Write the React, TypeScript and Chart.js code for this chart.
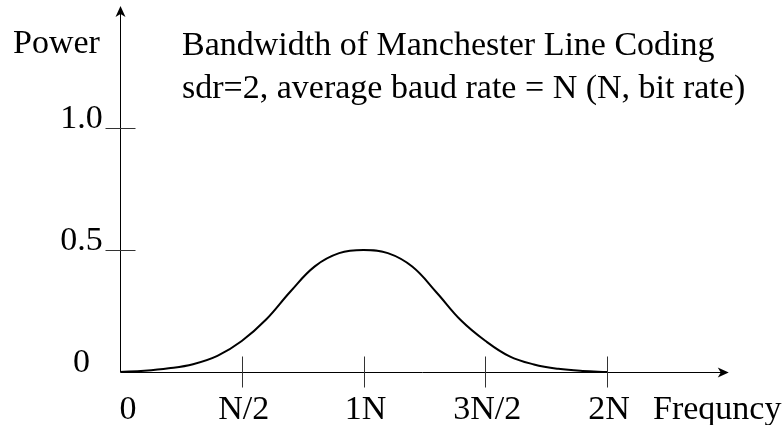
import React, { useEffect, useRef } from "react";
import { Chart, registerables } from "chart.js";

Chart.register(...registerables);

// Frequency in units of N (bit rate)
const freq: number[] = [0, 0.1, 0.2, 0.3, 0.4, 0.5, 0.6, 0.7, 0.8, 0.9, 1.0, 1.1, 1.2, 1.3, 1.4, 1.5, 1.6, 1.7, 1.8, 1.9, 2.0];
const power: number[] = [0, 0.005, 0.015, 0.032, 0.066, 0.127, 0.215, 0.33, 0.433, 0.487, 0.5, 0.487, 0.432, 0.326, 0.212, 0.128, 0.064, 0.031, 0.013, 0.004, 0];

const xTickValues: number[] = [0, 0.5, 1, 1.5, 2];
const xTickLabels: string[] = ["0", "N/2", "1N", "3N/2", "2N"];
const yTickValues: number[] = [0, 0.5, 1.0];
const yTickLabels: string[] = ["0", "0.5", "1.0"];

const titleLines: string[] = [
  "Bandwidth of Manchester Line Coding",
  "sdr=2, average baud rate = N (N, bit rate)",
];
const yAxisTitle = "Power";
const xAxisTitle = "Frequncy";

const FONT = "34px 'Liberation Serif', 'Times New Roman', serif";

const axesPlugin = {
  id: "customAxes",
  beforeDatasetsDraw(chart: any) {
    const ctx: CanvasRenderingContext2D = chart.ctx;
    const xs = chart.scales.x;
    const ys = chart.scales.y;
    const ox = Math.round(xs.getPixelForValue(0)) + 0.5;
    const oy = Math.round(ys.getPixelForValue(0)) + 0.5;
    const xEnd = xs.getPixelForValue(xs.max);
    const yEnd = ys.getPixelForValue(ys.max);
    ctx.save();
    // axes
    ctx.strokeStyle = "#000";
    ctx.lineWidth = 1;
    ctx.beginPath();
    ctx.moveTo(ox, oy);
    ctx.lineTo(xEnd - 4, oy);
    ctx.moveTo(ox, oy);
    ctx.lineTo(ox, yEnd + 4);
    ctx.stroke();
    // arrowheads
    ctx.fillStyle = "#000";
    ctx.beginPath();
    ctx.moveTo(xEnd, oy);
    ctx.lineTo(xEnd - 11, oy - 5);
    ctx.lineTo(xEnd - 8, oy);
    ctx.lineTo(xEnd - 11, oy + 5);
    ctx.closePath();
    ctx.fill();
    ctx.beginPath();
    ctx.moveTo(ox, yEnd);
    ctx.lineTo(ox - 5, yEnd + 11);
    ctx.lineTo(ox, yEnd + 8);
    ctx.lineTo(ox + 5, yEnd + 11);
    ctx.closePath();
    ctx.fill();
    // ticks
    ctx.strokeStyle = "#333";
    ctx.beginPath();
    xTickValues.forEach((v) => {
      if (v === 0) return;
      const px = Math.round(xs.getPixelForValue(v)) + 0.5;
      ctx.moveTo(px, oy - 16);
      ctx.lineTo(px, oy + 15);
    });
    yTickValues.forEach((v) => {
      if (v === 0) return;
      const py = Math.round(ys.getPixelForValue(v)) + 0.5;
      ctx.moveTo(ox - 15, py);
      ctx.lineTo(ox + 15, py);
    });
    ctx.stroke();
    // labels
    ctx.fillStyle = "#000";
    ctx.font = FONT;
    ctx.textBaseline = "alphabetic";
    ctx.textAlign = "center";
    xTickValues.forEach((v, i) => {
      const px = xs.getPixelForValue(v) + (v === 0 ? 8 : 2);
      ctx.fillText(xTickLabels[i], px, oy + 46);
    });
    yTickValues.forEach((v, i) => {
      const py = ys.getPixelForValue(v);
      ctx.fillText(yTickLabels[i], ox - 39, py);
    });
    ctx.textAlign = "left";
    ctx.fillText(xAxisTitle, xs.getPixelForValue(2) + 46, oy + 46);
    ctx.fillText(yAxisTitle, 13, 53);
    ctx.fillText(titleLines[0], 182, 55);
    ctx.fillText(titleLines[1], 182, 98);
    ctx.restore();
  },
};

export default function App() {
  const canvasRef = useRef<HTMLCanvasElement | null>(null);
  useEffect(() => {
    if (!canvasRef.current) return;
    const chart = new Chart(canvasRef.current, {
      type: "line",
      data: {
        datasets: [
          {
            data: freq.map((f, i) => ({ x: f, y: power[i] })),
            borderColor: "#000",
            borderWidth: 2,
            pointRadius: 0,
            tension: 0.4,
            fill: false,
          },
        ],
      },
      options: {
        animation: false,
        responsive: true,
        maintainAspectRatio: false,
        layout: { padding: { left: 120, right: 53.25, top: 6, bottom: 53 } },
        plugins: { legend: { display: false }, tooltip: { enabled: false }, title: { display: false } },
        scales: {
          x: { type: "linear", min: 0, max: 2.5, display: false },
          y: { type: "linear", min: 0, max: 1.5, display: false },
        },
      },
      plugins: [axesPlugin],
    } as any);
    return () => chart.destroy();
  }, []);
  return (
    <div style={{ position: "fixed", left: 0, top: 0, width: 782, height: 425, background: "#fff" }}>
      <canvas ref={canvasRef} />
    </div>
  );
}
